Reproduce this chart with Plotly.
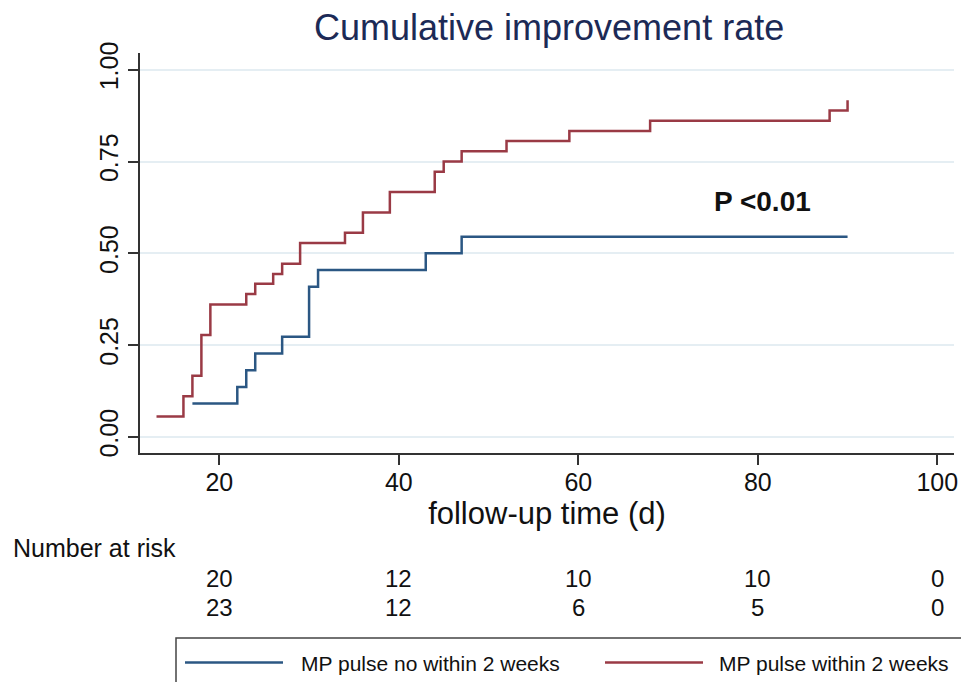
import plotly.graph_objects as go

# ---- data ----
red_days = [13, 16, 17, 18, 19, 23, 24, 26, 27, 29, 34, 36, 39, 44, 45, 47, 52, 59, 68, 88, 90]
red_rate = [0.056, 0.111, 0.167, 0.278, 0.361, 0.389, 0.417, 0.444, 0.472, 0.528, 0.556,
            0.611, 0.667, 0.722, 0.750, 0.778, 0.806, 0.833, 0.861, 0.889, 0.917]
blue_days = [17, 22, 23, 24, 27, 30, 31, 43, 47, 90]
blue_rate = [0.091, 0.136, 0.182, 0.227, 0.273, 0.409, 0.455, 0.500, 0.545, 0.545]

risk_times = [20, 40, 60, 80, 100]
risk_blue = [20, 12, 10, 10, 0]
risk_red = [23, 12, 6, 5, 0]

x_ticks = [20, 40, 60, 80, 100]
y_ticks = [0.0, 0.25, 0.5, 0.75, 1.0]
y_ticklabels = ["0.00", "0.25", "0.50", "0.75", "1.00"]

name_blue = "MP pulse no within 2 weeks"
name_red = "MP pulse within 2 weeks"
p_text = "P <0.01"

BLUE = "#2b5783"
RED = "#9a3a45"
FONT = "Liberation Sans, Arial, Helvetica, sans-serif"

# the page body adds an 8px margin; compensate so the figure lands where the reference is
OFF = 8
W, H = 969 - OFF, 682 - OFF
PLOT_L, PLOT_R, PLOT_T, PLOT_B = 140 - OFF, 954 - OFF, 53 - OFF, 452.7 - OFF
L, R, T, B = PLOT_L, W - PLOT_R, PLOT_T, H - PLOT_B
PW = PLOT_R - PLOT_L
PH = PLOT_B - PLOT_T


def px_x(px):
    return (px - OFF - PLOT_L) / PW


def px_y(py):
    return (PLOT_B - (py - OFF)) / PH


fig = go.Figure()
fig.add_trace(go.Scatter(x=blue_days, y=blue_rate, mode="lines", line_shape="hv",
                         line=dict(color=BLUE, width=2.5), name=name_blue, showlegend=False))
fig.add_trace(go.Scatter(x=red_days, y=red_rate, mode="lines", line_shape="hv",
                         line=dict(color=RED, width=2.5), name=name_red, showlegend=False))

annotations = []
annotations.append(dict(text="Cumulative improvement rate", xref="paper", yref="paper",
                         x=px_x(549), y=px_y(28), xanchor="center", yanchor="middle",
                         showarrow=False, font=dict(family=FONT, size=36, color="#1c2a56")))
annotations.append(dict(text="<b>%s</b>" % p_text, xref="x", yref="y", x=80.5, y=0.64,
                         xanchor="center", yanchor="middle", showarrow=False,
                         font=dict(family=FONT, size=28, color="#111111")))
annotations.append(dict(text="Number at risk", xref="paper", yref="paper", x=px_x(11), y=px_y(548),
                         xanchor="left", yanchor="middle", showarrow=False,
                         font=dict(family=FONT, size=25, color="#111111")))
for t, v in zip(risk_times, risk_blue):
    annotations.append(dict(text=str(v), xref="x", yref="paper", x=t, y=px_y(578),
                             xanchor="center", yanchor="middle", showarrow=False,
                             font=dict(family=FONT, size=24, color="#111111")))
for t, v in zip(risk_times, risk_red):
    annotations.append(dict(text=str(v), xref="x", yref="paper", x=t, y=px_y(607),
                             xanchor="center", yanchor="middle", showarrow=False,
                             font=dict(family=FONT, size=24, color="#111111")))
annotations.append(dict(text=name_blue, xref="paper", yref="paper", x=px_x(299), y=px_y(663),
                         xanchor="left", yanchor="middle", showarrow=False,
                         font=dict(family=FONT, size=21, color="#111111")))
annotations.append(dict(text=name_red, xref="paper", yref="paper", x=px_x(717), y=px_y(663),
                         xanchor="left", yanchor="middle", showarrow=False,
                         font=dict(family=FONT, size=21, color="#111111")))

shapes = [
    dict(type="rect", xref="paper", yref="paper", x0=px_x(176), x1=px_x(1000),
         y0=px_y(710), y1=px_y(637.5), line=dict(color="#444444", width=1.5), fillcolor="rgba(0,0,0,0)"),
    dict(type="line", xref="paper", yref="paper", x0=px_x(185), x1=px_x(283),
         y0=px_y(662), y1=px_y(662), line=dict(color=BLUE, width=2.5)),
    dict(type="line", xref="paper", yref="paper", x0=px_x(605), x1=px_x(703),
         y0=px_y(662), y1=px_y(662), line=dict(color=RED, width=2.5)),
]

fig.update_layout(
    width=W, height=H,
    margin=dict(l=L, r=R, t=T, b=B, pad=0),
    paper_bgcolor="white", plot_bgcolor="white",
    font=dict(family=FONT, color="#111111"),
    annotations=annotations, shapes=shapes, showlegend=False,
)
fig.update_xaxes(range=[11.16, 101.86], tickvals=x_ticks, ticks="outside", ticklen=10,
                 tickwidth=1.5, tickcolor="#333333", showline=True, linecolor="#333333",
                 linewidth=1.5, showgrid=False, zeroline=False, ticklabelstandoff=-4,
                 tickfont=dict(family=FONT, size=25, color="#111111"),
                 title=dict(text="follow-up time (d)", font=dict(family=FONT, size=31, color="#111111"),
                            standoff=2))
fig.update_yaxes(range=[-0.0436, 1.0455], tickvals=y_ticks, ticktext=y_ticklabels, ticks="outside",
                 ticklen=10, tickwidth=1.5, tickcolor="#333333", showline=True, linecolor="#333333",
                 linewidth=1.5, showgrid=True, gridcolor="#e5eef3", gridwidth=1.5, zeroline=False,
                 tickangle=-90, tickfont=dict(family=FONT, size=25, color="#111111"))

fig.write_html("out.html")
